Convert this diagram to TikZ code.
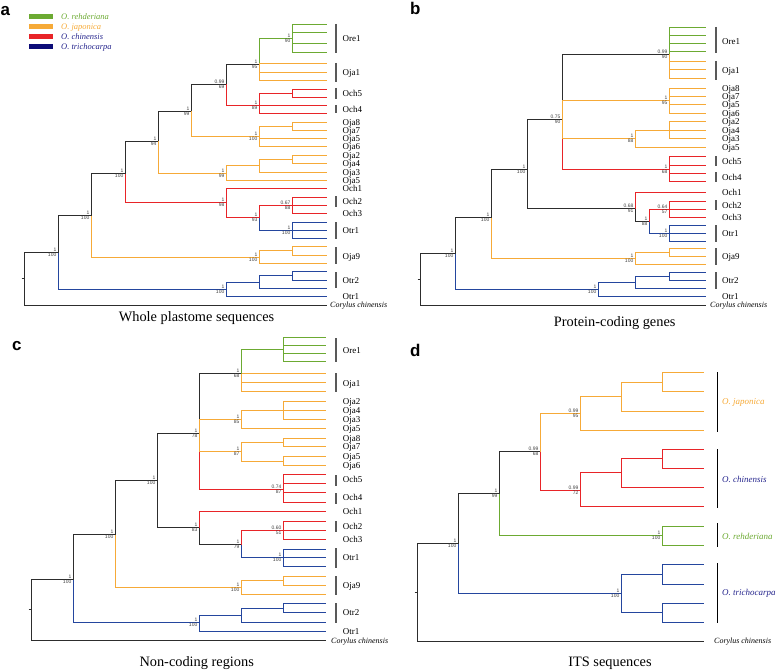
\documentclass[tikz,border=0pt]{standalone}
\usepackage{fontspec}
\setmainfont{Liberation Serif}
\setsansfont{Liberation Sans}
\definecolor{brgray}{RGB}{45,45,45}
\definecolor{orgreen}{RGB}{108,170,50}
\definecolor{orjapo}{RGB}{246,170,56}
\definecolor{orred}{RGB}{232,36,40}
\definecolor{orblue}{RGB}{36,70,158}
\definecolor{ornavy}{RGB}{12,12,120}
\definecolor{ortext}{RGB}{36,36,140}
\tikzset{
		% one branch style for each species colour
		grey branch/.style={draw=brgray,line width=1.1bp},
		green branch/.style={draw=orgreen,line width=1.1bp},
		japo branch/.style={draw=orjapo,line width=1.1bp},
		red branch/.style={draw=orred,line width=1.1bp},
		blue branch/.style={draw=orblue,line width=1.1bp},
		clade bar/.style={draw=black!65,line width=2bp},
		species bar/.style={draw=black,line width=1bp},
		tip label/.style={anchor=base west,inner sep=0,yshift=-3.1bp,font=\fontsize{9}{9}\selectfont},
		out label/.style={anchor=base west,inner sep=0,yshift=-2.6bp,font=\fontsize{8}{8}\selectfont\itshape},
		species label/.style={anchor=base west,inner sep=0,yshift=-3bp,font=\fontsize{9}{9}\selectfont\itshape},
		support label/.style={inner sep=0.8bp,xshift=-1.2bp,text=black!75,font=\fontsize{5}{5}\sffamily},
		panel title/.style={inner sep=0,font=\fontsize{14.4}{14.4}\selectfont},
		panel letter/.style={anchor=base west,inner sep=0,font=\fontsize{17}{17}\sffamily\bfseries},
		legend label/.style={anchor=base west,inner sep=0,yshift=-2.8bp,font=\fontsize{8.5}{8.5}\selectfont\itshape}
	}
% coordinate put on a pixel centre, so that thin lines stay sharp
\newcommand{\snapxy}[3]{\pgfmathsetmacro\snx{floor(#2)+0.5}\pgfmathsetmacro\sny{floor(#3)+0.5}\coordinate (#1) at (\snx,\sny);}
% posterior probability above, bootstrap below
\newcommand{\bsup}[3]{%
	\node[support label,anchor=south east] (#1-pp) at (#1) {#2};
	\node[support label,anchor=north east] (#1-bs) at (#1) {#3};}
\begin{document}
\begin{tikzpicture}[x=1bp,y=-1bp]
		\useasboundingbox (0,0) rectangle (777,671);
		% legend
		\node[panel letter] (a-letter) at (0.5,15.3) {a};
		\fill[orgreen] (29,14) rectangle (53,19);
		\fill[orjapo] (29,24) rectangle (53,29);
		\fill[orred] (29,34) rectangle (53,39);
		\fill[ornavy] (29,44) rectangle (53,49);
		\node[legend label,text=orgreen] (leg-reh) at (61,16.7) {O. rehderiana};
		\node[legend label,text=orjapo] (leg-jap) at (61,26.7) {O. japonica};
		\node[legend label,text=ortext] (leg-chi) at (61,36.8) {O. chinensis};
		\node[legend label,text=ortext] (leg-tri) at (61,46.8) {O. trichocarpa};

		% a: whole plastome sequences
		\snapxy{a-stub}{21}{278.7}
		\snapxy{a-root}{24.3}{278.7}
		\snapxy{a-A}{58.7}{252}
		\snapxy{a-B}{91.7}{215}
		\snapxy{a-C}{125}{173.3}
		\snapxy{a-D}{158.3}{141.7}
		\snapxy{a-I}{191.7}{111.7}
		\snapxy{a-M}{226}{84.3}
		\snapxy{a-O}{259.3}{64}
		\snapxy{a-Q}{292.7}{38.3}
		\snapxy{a-P}{259.3}{105.3}
		\snapxy{a-P1}{292.7}{93.2}
		\snapxy{a-N}{259.3}{136.7}
		\snapxy{a-N1}{292.7}{126.7}
		\snapxy{a-J}{226}{173.3}
		\snapxy{a-K}{259.3}{165.7}
		\snapxy{a-L}{292.7}{159}
		\snapxy{a-E}{226}{202.7}
		\snapxy{a-F}{259.3}{217.5}
		\snapxy{a-G}{292.7}{205}
		\snapxy{a-H}{292.7}{230}
		\snapxy{a-Y}{259.3}{257}
		\snapxy{a-Y1}{292.7}{250.8}
		\snapxy{a-Z}{226}{289.3}
		\snapxy{a-Z1}{259.3}{282}
		\snapxy{a-Z2}{292.7}{275.7}
		\foreach \y [count=\i] in {24.3,32.7,43.7,52,63.7,72,80,89,97,105.3,113.7,122.7,130.7,138.7,146.7,155,163,172.7,180.7,188.7,197,205,213.3,222,230,238.3,246.7,255,263.3,271.3,280,288.3,296.3,305.3}
			{\snapxy{a-t\i}{326}{\y}}
		\draw[grey branch] (a-stub) -- (a-root) (a-root) |- (a-A) (a-root) |- (a-t34)
			(a-A) |- (a-B) (a-B) |- (a-C) (a-C) |- (a-D) (a-D) |- (a-I) (a-I) |- (a-M) (a-M) |- (a-O);
		\draw[blue branch] (a-A) |- (a-Z) (a-Z) |- (a-Z1) (a-Z) |- (a-t33) (a-Z1) |- (a-Z2) (a-Z1) |- (a-t32)
			(a-Z2) |- (a-t30) (a-Z2) |- (a-t31) (a-F) |- (a-H) (a-H) |- (a-t24) (a-H) |- (a-t25) (a-H) |- (a-t26);
		\draw[red branch] (a-C) |- (a-E) (a-E) |- (a-t20) (a-E) |- (a-F) (a-F) |- (a-G)
			(a-G) |- (a-t21) (a-G) |- (a-t22) (a-G) |- (a-t23) (a-M) |- (a-P) (a-P) |- (a-P1)
			(a-P) |- (a-t10) (a-P) |- (a-t11) (a-P1) |- (a-t8) (a-P1) |- (a-t9);
		\draw[green branch] (a-O) |- (a-Q) (a-Q) |- (a-t1) (a-Q) |- (a-t2) (a-Q) |- (a-t3) (a-Q) |- (a-t4);
		\draw[japo branch] (a-B) |- (a-Y) (a-Y) |- (a-Y1) (a-Y) |- (a-t29) (a-Y1) |- (a-t27) (a-Y1) |- (a-t28)
			(a-D) |- (a-J) (a-J) |- (a-K) (a-J) |- (a-t19) (a-K) |- (a-L) (a-K) |- (a-t18) (a-L) |- (a-t16) (a-L) |- (a-t17)
			(a-I) |- (a-N) (a-N) |- (a-N1) (a-N) |- (a-t14) (a-N) |- (a-t15) (a-N1) |- (a-t12) (a-N1) |- (a-t13)
			(a-O) |- (a-t5) (a-O) |- (a-t6) (a-O) |- (a-t7);
		\bsup{a-A}{1}{100} \bsup{a-B}{1}{100} \bsup{a-C}{1}{100} \bsup{a-D}{1}{94}
		\bsup{a-I}{1}{99} \bsup{a-M}{0.99}{69} \bsup{a-O}{1}{95} \bsup{a-Q}{1}{90}
		\bsup{a-P}{1}{89} \bsup{a-N}{1}{100} \bsup{a-J}{1}{99} \bsup{a-E}{1}{98}
		\bsup{a-F}{1}{93} \bsup{a-G}{0.67}{88} \bsup{a-H}{1}{100} \bsup{a-Y}{1}{100}
		\bsup{a-Z}{1}{100}
		\foreach \y/\t [count=\i] in {38.5/Ore1,72/Oja1,93.5/Och5,109.5/Och4,122.7/Oja8,130.7/Oja7,138.7/Oja5,146.7/Oja6,155/Oja2,163/Oja4,172.7/Oja3,180.7/Oja5,188.7/Och1,201/Och2,213.3/Och3,230.5/Otr1,256/Oja9,280/Otr2,296.3/Otr1}
			\node[tip label] (a-n\i) at (342.5,\y) {\t};
		\foreach \u/\v in {24/53,63/82,88/99,105/113,196/207,222/239,247/264,272/288}
			\draw[clade bar] (336,\u) -- (336,\v);
		\node[out label] (a-cor) at (330,305.3) {Corylus chinensis};
		\node[panel title] (a-title) at (196.5,318.5) {Whole plastome sequences};

		% b: protein-coding genes
		\node[panel letter] (b-letter) at (410,15) {b};
		\snapxy{b-stub}{417.3}{279.3}
		\snapxy{b-root}{420.7}{279.3}
		\snapxy{b-AA}{455.7}{253.3}
		\snapxy{b-X}{491.7}{217.3}
		\snapxy{b-S}{527.3}{169.3}
		\snapxy{b-R}{562.3}{119}
		\snapxy{b-P7}{669.3}{54}
		\snapxy{b-O8}{669.3}{100}
		\snapxy{b-O2}{635}{138}
		\snapxy{b-O21}{669.3}{130}
		\snapxy{b-Och}{669.3}{169.3}
		\snapxy{b-T}{635}{208.3}
		\snapxy{b-U}{649.3}{221.7}
		\snapxy{b-V}{669.3}{209.3}
		\snapxy{b-W}{669.3}{233.3}
		\snapxy{b-Y}{635}{258.6}
		\snapxy{b-Y1}{669.3}{252.5}
		\snapxy{b-Z}{598.3}{289.3}
		\snapxy{b-Z1}{635}{282.3}
		\snapxy{b-Z2}{669.3}{276.2}
		\foreach \y [count=\i] in {27.7,35.7,43.7,51.7,61,69.7,78.3,88.7,96.8,104.8,113.2,121.5,130,138.5,147,156.7,165,173.7,181.7,192.7,201.3,209.3,217.3,225.7,233.3,241.3,248.5,256.5,264.7,272,280.3,288.3,296.3,305.3}
			{\snapxy{b-t\i}{705.3}{\y}}
		\draw[grey branch] (b-stub) -- (b-root) (b-root) |- (b-AA) (b-root) |- (b-t34) (b-AA) |- (b-X)
			(b-X) |- (b-S) (b-S) |- (b-R) (b-S) |- (b-T) (b-R) |- (b-P7) (b-T) |- (b-U);
		\draw[blue branch] (b-AA) |- (b-Z) (b-Z) |- (b-Z1) (b-Z) |- (b-t33) (b-Z1) |- (b-Z2) (b-Z1) |- (b-t32)
			(b-Z2) |- (b-t30) (b-Z2) |- (b-t31) (b-U) |- (b-W) (b-W) |- (b-t24) (b-W) |- (b-t25) (b-W) |- (b-t26);
		\draw[red branch] (b-R) |- (b-Och) (b-Och) |- (b-t16) (b-Och) |- (b-t17) (b-Och) |- (b-t18) (b-Och) |- (b-t19)
			(b-T) |- (b-t20) (b-U) |- (b-V) (b-V) |- (b-t21) (b-V) |- (b-t22) (b-V) |- (b-t23);
		\draw[green branch] (b-P7) |- (b-t1) (b-P7) |- (b-t2) (b-P7) |- (b-t3) (b-P7) |- (b-t4);
		\draw[japo branch] (b-X) |- (b-Y) (b-Y) |- (b-Y1) (b-Y) |- (b-t29) (b-Y1) |- (b-t27) (b-Y1) |- (b-t28)
			(b-R) |- (b-O8) (b-R) |- (b-O2) (b-O8) |- (b-t8) (b-O8) |- (b-t9) (b-O8) |- (b-t10) (b-O8) |- (b-t11)
			(b-O2) |- (b-O21) (b-O2) |- (b-t15) (b-O21) |- (b-t12) (b-O21) |- (b-t13) (b-O21) |- (b-t14)
			(b-P7) |- (b-t5) (b-P7) |- (b-t6) (b-P7) |- (b-t7);
		\bsup{b-AA}{1}{100} \bsup{b-X}{1}{100} \bsup{b-S}{1}{100} \bsup{b-R}{0.75}{90}
		\bsup{b-P7}{0.99}{90} \bsup{b-O8}{1}{95} \bsup{b-O2}{1}{88} \bsup{b-Och}{1}{68}
		\bsup{b-T}{0.68}{91} \bsup{b-U}{1}{88} \bsup{b-V}{0.64}{57} \bsup{b-W}{1}{100}
		\bsup{b-Y}{1}{100} \bsup{b-Z}{1}{100}
		\foreach \y/\t [count=\i] in {41/Ore1,70/Oja1,88.7/Oja8,96.8/Oja7,104.8/Oja5,113.2/Oja6,121.5/Oja2,130/Oja4,138.5/Oja3,147/Oja5,161/Och5,177/Och4,192.7/Och1,205/Och2,217.3/Och3,233.3/Otr1,256.5/Oja9,280.3/Otr2,296.3/Otr1}
			\node[tip label] (b-n\i) at (722,\y) {\t};
		\foreach \u/\v in {27/53,61/80,156/166,172/182,200/210,225/242,248/265,272/289}
			\draw[clade bar] (716,\u) -- (716,\v);
		\node[out label] (b-cor) at (710,305.3) {Corylus chinensis};
		\node[panel title] (b-title) at (614.7,322.7) {Protein-coding genes};

		% c: non-coding regions
		\node[panel letter] (c-letter) at (12,350) {c};
		\snapxy{c-stub}{28.4}{609.9}
		\snapxy{c-root}{31.7}{609.9}
		\snapxy{c-7}{73.3}{579}
		\snapxy{c-6}{115.7}{534.3}
		\snapxy{c-3}{157.3}{480.7}
		\snapxy{c-2}{199.3}{433.3}
		\snapxy{c-1}{241}{373.3}
		\snapxy{c-Q}{283.3}{349}
		\snapxy{c-O2}{241}{419.3}
		\snapxy{c-O21}{283.3}{410.3}
		\snapxy{c-O8}{241}{451.7}
		\snapxy{c-O81}{283.3}{442.5}
		\snapxy{c-O82}{283.3}{461}
		\snapxy{c-Och}{283.3}{489}
		\snapxy{c-4}{199.3}{527.7}
		\snapxy{c-5}{241}{544.3}
		\snapxy{c-G}{283.3}{530}
		\snapxy{c-H}{283.3}{557.7}
		\snapxy{c-Y}{241}{587.3}
		\snapxy{c-Y1}{283.3}{580.5}
		\snapxy{c-8}{199.3}{622.7}
		\snapxy{c-9}{241}{615.5}
		\snapxy{c-10}{283.3}{608}
		\foreach \y [count=\i] in {337.7,345,353.3,361,373.3,382.7,391.7,401.7,410.3,419,428.3,438.3,446.7,456.7,465.7,474.3,483.3,492.3,502.3,511.7,521,530,539.3,549,557.7,566.7,576,585,594.3,603.3,612.7,622.3,631,640.7}
			{\snapxy{c-t\i}{325}{\y}}
		\draw[grey branch] (c-stub) -- (c-root) (c-root) |- (c-7) (c-root) |- (c-t34) (c-7) |- (c-6)
			(c-6) |- (c-3) (c-3) |- (c-2) (c-3) |- (c-4) (c-2) |- (c-1) (c-4) |- (c-5);
		\draw[blue branch] (c-7) |- (c-8) (c-8) |- (c-9) (c-8) |- (c-t33) (c-9) |- (c-10) (c-9) |- (c-t32)
			(c-10) |- (c-t30) (c-10) |- (c-t31) (c-5) |- (c-H) (c-H) |- (c-t24) (c-H) |- (c-t25) (c-H) |- (c-t26);
		\draw[red branch] (c-2) |- (c-Och) (c-Och) |- (c-t16) (c-Och) |- (c-t17) (c-Och) |- (c-t18) (c-Och) |- (c-t19)
			(c-4) |- (c-t20) (c-5) |- (c-G) (c-G) |- (c-t21) (c-G) |- (c-t22) (c-G) |- (c-t23);
		\draw[green branch] (c-1) |- (c-Q) (c-Q) |- (c-t1) (c-Q) |- (c-t2) (c-Q) |- (c-t3) (c-Q) |- (c-t4);
		\draw[japo branch] (c-6) |- (c-Y) (c-Y) |- (c-Y1) (c-Y) |- (c-t29) (c-Y1) |- (c-t27) (c-Y1) |- (c-t28)
			(c-2) |- (c-O2) (c-2) |- (c-O8) (c-O2) |- (c-O21) (c-O2) |- (c-t11)
			(c-O21) |- (c-t8) (c-O21) |- (c-t9) (c-O21) |- (c-t10)
			(c-O8) |- (c-O81) (c-O8) |- (c-O82) (c-O81) |- (c-t12) (c-O81) |- (c-t13) (c-O82) |- (c-t14) (c-O82) |- (c-t15)
			(c-1) |- (c-t5) (c-1) |- (c-t6) (c-1) |- (c-t7);
		\bsup{c-7}{1}{100} \bsup{c-6}{1}{100} \bsup{c-3}{1}{100} \bsup{c-2}{1}{78}
		\bsup{c-1}{1}{68} \bsup{c-O2}{1}{85} \bsup{c-O8}{1}{87} \bsup{c-Och}{0.74}{87}
		\bsup{c-4}{1}{83} \bsup{c-5}{1}{79} \bsup{c-G}{0.60}{51} \bsup{c-H}{1}{100}
		\bsup{c-Y}{1}{100} \bsup{c-8}{1}{100}
		\foreach \y/\t [count=\i] in {350/Ore1,383/Oja1,401.7/Oja2,410.3/Oja4,419/Oja3,428.3/Oja5,438.3/Oja8,446.7/Oja7,456.7/Oja5,465.7/Oja6,479.5/Och5,497.5/Och4,511.7/Och1,526/Och2,539.3/Och3,557.7/Otr1,585/Oja9,612.7/Otr2,631/Otr1}
			\node[tip label] (c-n\i) at (342.7,\y) {\t};
		\foreach \u/\v in {338/362,373/392,475/486,493/504,521/532,548/568,576/595,603/623}
			\draw[clade bar] (336,\u) -- (336,\v);
		\node[out label] (c-cor) at (331,640.7) {Corylus chinensis};
		\node[panel title] (c-title) at (196.7,663.3) {Non-coding regions};

		% d: ITS sequences
		\node[panel letter] (d-letter) at (410,356.7) {d};
		\snapxy{d-stub}{414.5}{592.2}
		\snapxy{d-root}{417.3}{592.2}
		\snapxy{d-13}{458.3}{543.3}
		\snapxy{d-9}{499.3}{493.3}
		\snapxy{d-7}{540}{451.7}
		\snapxy{d-3}{580.7}{413.3}
		\snapxy{d-2}{621.7}{396.3}
		\snapxy{d-1}{662.7}{382}
		\snapxy{d-6}{580.7}{490}
		\snapxy{d-5}{621.7}{472.8}
		\snapxy{d-4}{662.7}{458.8}
		\snapxy{d-8}{662.7}{535.8}
		\snapxy{d-12}{621.7}{593.3}
		\snapxy{d-10}{662.7}{574.3}
		\snapxy{d-11}{662.7}{612.7}
		\foreach \y [count=\i] in {372.3,391.7,411,430,449.3,468.3,487.3,506.7,526,545.7,564.7,584,603,622.3,641}
			{\snapxy{d-t\i}{703.3}{\y}}
		\draw[grey branch] (d-stub) -- (d-root) (d-root) |- (d-13) (d-root) |- (d-t15) (d-13) |- (d-9) (d-9) |- (d-7);
		\draw[blue branch] (d-13) |- (d-12) (d-12) |- (d-10) (d-12) |- (d-11)
			(d-10) |- (d-t11) (d-10) |- (d-t12) (d-11) |- (d-t13) (d-11) |- (d-t14);
		\draw[red branch] (d-7) |- (d-6) (d-6) |- (d-5) (d-6) |- (d-t8) (d-5) |- (d-4) (d-5) |- (d-t7)
			(d-4) |- (d-t5) (d-4) |- (d-t6);
		\draw[green branch] (d-9) |- (d-8) (d-8) |- (d-t9) (d-8) |- (d-t10);
		\draw[japo branch] (d-7) |- (d-3) (d-3) |- (d-2) (d-3) |- (d-t4) (d-2) |- (d-1) (d-2) |- (d-t3)
			(d-1) |- (d-t1) (d-1) |- (d-t2);
		\bsup{d-13}{1}{100} \bsup{d-9}{1}{99} \bsup{d-7}{0.99}{68} \bsup{d-3}{0.99}{95}
		\bsup{d-6}{0.99}{72} \bsup{d-8}{1}{100} \bsup{d-12}{1}{100}
		\foreach \u/\v in {372/432,449/508,523/547,563/623}
			\draw[species bar] (717.5,\u) -- (717.5,\v);
		\node[species label,text=orjapo] (d-jap) at (722,401.7) {O. japonica};
		\node[species label,text=ortext] (d-chi) at (722,479) {O. chinensis};
		\node[species label,text=orgreen] (d-reh) at (722,536) {O. rehderiana};
		\node[species label,text=ortext] (d-tri) at (722,592.3) {O. trichocarpa};
		\node[out label] (d-cor) at (714,641) {Corylus chinensis};
		\node[panel title] (d-title) at (610,663.3) {ITS sequences};
	\end{tikzpicture}
\end{document}
